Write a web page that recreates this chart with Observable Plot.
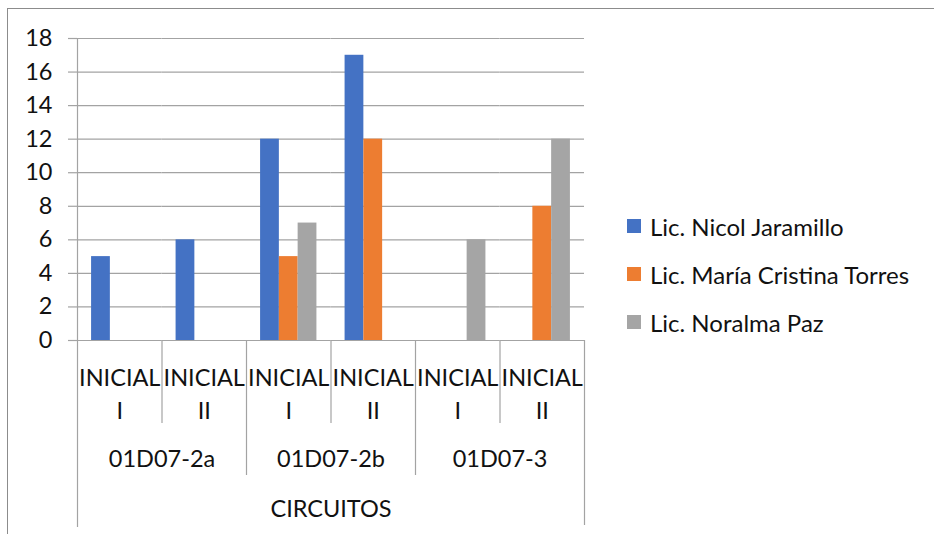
<!DOCTYPE html>
<html><head><meta charset="utf-8">
<script src="https://cdn.jsdelivr.net/npm/d3@7"></script>
<script src="https://cdn.jsdelivr.net/npm/@observablehq/plot@0.6"></script>
<style>
body{margin:0;background:#fff;font-family:Lato,sans-serif;}
#wrap{position:relative;width:934px;height:534px;overflow:hidden;}
#chart svg{background:transparent;}
#border{position:absolute;left:7px;top:8px;width:2000px;height:2000px;border-left:1.3px solid #8c8c8c;border-top:1.3px solid #8c8c8c;pointer-events:none;}
#legend{position:absolute;left:627px;top:202px;}
.item{display:flex;align-items:center;height:48px;font-size:24px;color:#111;white-space:nowrap;}
.sw{width:14px;height:14px;margin-right:9px;flex:none;}
</style></head><body>
<div id="wrap"><div id="chart"></div><div id="border"></div><div id="legend"></div></div>
<script>
// ---- data ----
const circuits = ["01D07-2a", "01D07-2a", "01D07-2b", "01D07-2b", "01D07-3", "01D07-3"];
const levels = ["INICIAL I", "INICIAL II", "INICIAL I", "INICIAL II", "INICIAL I", "INICIAL II"];
const series = ["Lic. Nicol Jaramillo", "Lic. María Cristina Torres", "Lic. Noralma Paz"];
const nicol = [5, 6, 12, 17, null, null];
const maria = [null, null, 5, 12, null, 8];
const noralma = [null, null, 7, null, 6, 12];
const colors = ["#4472C4", "#ED7D31", "#A5A5A5"];
const yTicks = [0, 2, 4, 6, 8, 10, 12, 14, 16, 18];
const axisTitle = "CIRCUITOS";

// ---- tables built from the arrays ----
const keys = circuits.map((c, i) => c + "|" + levels[i]);
const cats = keys.map((k, i) => ({key: k, circuit: circuits[i], level: levels[i], i}));
const seriesValues = [nicol, maria, noralma];
const rows = [];
cats.forEach(c => series.forEach((s, j) => {
  const v = seriesValues[j][c.i];
  if (v != null) rows.push({key: c.key, series: s, value: v});
}));
const innerSeps = cats.filter(c => c.i > 0 && circuits[c.i - 1] === c.circuit);
const circuitSeps = cats.filter(c => c.i > 0 && circuits[c.i - 1] !== c.circuit);
const circuitLabels = cats.filter(c => c.i === 0 || circuits[c.i - 1] !== c.circuit);
const titleRow = [{key: keys[keys.length / 2 - 1], label: axisTitle}];

// ---- layout ----
const W = 934, H = 534, mL = 77, mR = 350, mT = 38, mB = 194;
const plotH = H - mT - mB;
const facetW = (W - mL - mR) / keys.length;
const gridColor = "#a3a3a3";
const textColor = "#111";
const fs = 23.5;
const mid = () => series[1]; // centre band of each facet

const sep = (data, dx, insetTop, insetBottom) =>
  Plot.ruleX(data, {fx: "key", x: mid, dx, insetTop, insetBottom, stroke: gridColor, strokeWidth: 1.2});

const chart = Plot.plot({
  width: W, height: H,
  marginLeft: mL, marginRight: mR, marginTop: mT, marginBottom: mB,
  style: {fontFamily: "Lato, sans-serif", fontSize: fs + "px", color: textColor, background: "transparent"},
  fx: {domain: keys, padding: 0, axis: null, round: false},
  x: {domain: series, paddingInner: 0, paddingOuter: 0.75, axis: null, round: false},
  y: {domain: [0, 18], axis: null},
  color: {domain: series, range: colors},
  marks: [
    Plot.gridY(yTicks, {stroke: gridColor, strokeOpacity: 1, strokeWidth: 1.2}),
    Plot.axisY(yTicks, {anchor: "left", tickSize: 9, tickPadding: 16, stroke: gridColor, strokeWidth: 1.2, fill: textColor, label: null, fontSize: fs}),
    Plot.barY(rows, {fx: "key", x: "series", y: "value", fill: "series"}),
    // category axis separators
    sep(innerSeps, -facetW / 2, plotH, -83),
    sep(circuitSeps, -facetW / 2, plotH, -135),
    sep(cats.slice(0, 1), -facetW / 2, 0, -187),
    sep(cats.slice(-1), facetW / 2, plotH, -185),
    // category labels
    Plot.text(cats, {fx: "key", text: d => d.level.replace(" ", "\n"), frameAnchor: "bottom", textAnchor: "middle", lineAnchor: "middle", lineHeight: 32.5 / fs, dy: 51.5, fill: textColor, fontSize: fs}),
    Plot.text(circuitLabels, {fx: "key", text: "circuit", frameAnchor: "bottom-right", textAnchor: "middle", lineAnchor: "middle", dy: 118.5, fill: textColor, fontSize: fs}),
    Plot.text(titleRow, {fx: "key", text: "label", frameAnchor: "bottom-right", textAnchor: "middle", lineAnchor: "middle", dy: 168.5, fill: textColor, fontSize: fs})
  ]
});
document.getElementById("chart").appendChild(chart);

// ---- legend ----
const legend = document.getElementById("legend");
series.forEach((s, j) => {
  const item = document.createElement("div");
  item.className = "item";
  const sw = document.createElement("span");
  sw.className = "sw";
  sw.style.background = colors[j];
  const label = document.createElement("span");
  label.textContent = s;
  item.appendChild(sw);
  item.appendChild(label);
  legend.appendChild(item);
});
</script>
</body></html>
